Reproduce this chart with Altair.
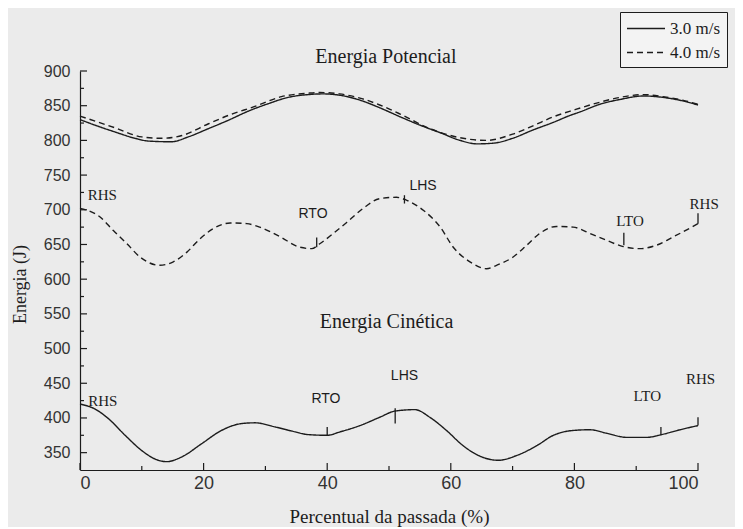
import altair as alt
import pandas as pd

# ---- data ----
speeds = ["3.0 m/s", "4.0 m/s"]

pe30_x = [0, 2.4, 5.7, 8.9, 11.1, 14.8, 17.5, 20.8, 24, 27.2, 30.5, 33.7, 36.9, 39.4, 42.1, 45.3, 48.5, 51.8, 55, 58.3, 61.5, 64.2, 66.9, 70, 73.3, 76.6, 79.3, 80.9, 84.1, 87.4, 91.2, 94.3, 97.5, 100]
pe30_y = [830, 822, 812, 803, 799, 798, 805, 817, 829, 842, 853, 862, 866, 867, 865, 858, 847, 834, 822, 811, 800, 795, 796, 803, 815, 826, 836, 841, 852, 859, 864, 862, 857, 851]

pe40_x = [0, 5.7, 10, 13.2, 16.5, 20.8, 24, 28.3, 32.6, 36.9, 38.8, 42, 45.3, 48.5, 51.8, 56.6, 62, 65.8, 70, 73.3, 76.6, 80, 84.1, 87.4, 91.2, 94.3, 97.5, 100]
pe40_y = [835, 818, 805, 803, 807, 824, 836, 849, 863, 868, 869, 867, 861, 851, 838, 817, 803, 800, 809, 821, 834, 844, 855, 862, 866, 863, 858, 852]

ke30_x = [0, 2.4, 4.6, 7.3, 10, 12.1, 14, 16.5, 19.7, 22.9, 26.2, 28.3, 31.6, 34.8, 36.9, 40, 42.1, 45.3, 48.5, 51, 54.2, 56.6, 59.3, 62, 64.7, 67.7, 70.7, 73.9, 76.6, 79.8, 82.5, 85.2, 88.5, 91.7, 94.1, 97.1, 100]
ke30_y = [420, 413, 399, 375, 353, 341, 337, 344, 363, 382, 392, 393, 387, 380, 376, 375, 380, 389, 401, 410, 412, 401, 382, 360, 345, 339, 346, 360, 375, 382, 383, 378, 372, 372, 376, 383, 389]

ke40_x = [0, 3.2, 5.4, 7.6, 9.7, 12.9, 15.1, 17.3, 19.4, 21.6, 24.3, 27, 29.1, 32.4, 35.6, 37.5, 38.8, 41, 43.2, 45.8, 48.5, 51.2, 52.8, 55.6, 58.3, 60.4, 63.1, 65.8, 67.4, 70.1, 72.3, 74.4, 77.1, 79.8, 82.5, 85.2, 87.9, 90.6, 93.3, 96, 99.2, 100]
ke40_y = [702, 690, 670, 651, 632, 620, 625, 639, 658, 673, 681, 680, 675, 661, 646, 644, 651, 666, 682, 702, 716, 718, 714, 699, 675, 646, 625, 615, 620, 632, 649, 666, 676, 675, 666, 656, 647, 644, 649, 661, 676, 680]

# gait event markers (x, y from, y to)
ev_x = [40, 51, 94, 100, 38.3, 52.5, 88, 100]
ev_y1 = [387, 414, 387, 401, 660, 721, 667, 695]
ev_y2 = [375, 392, 375, 389, 646, 709, 649, 680]

# event labels
serif_lbl = ["RHS", "LTO", "RHS", "RHS", "LTO", "RHS"]
serif_x = [3.7, 91.8, 100.4, 3.6, 89, 101]
serif_y = [425, 432, 456, 721, 684, 708]
sans_lbl = ["RTO", "LHS", "RTO", "LHS"]
sans_x = [39.8, 52.5, 37.7, 55.5]
sans_y = [427, 460, 694, 734]

panel_lbl = ["Energia Potencial", "Energia Cinética"]
panel_x = [49.5, 49.6]
panel_y = [920, 539]

y_major = list(range(350, 901, 50))
y_minor = list(range(375, 876, 50))
x_major = [0, 20, 40, 60, 80, 100]
x_minor = [10, 30, 50, 70, 90]

# ---- tables ----
rows = []
for xs_, ys_, sp, cv in [(pe30_x, pe30_y, speeds[0], "pe30"), (pe40_x, pe40_y, speeds[1], "pe40"),
                         (ke30_x, ke30_y, speeds[0], "ke30"), (ke40_x, ke40_y, speeds[1], "ke40")]:
    for a, b in zip(xs_, ys_):
        rows.append({"x": a, "energia": b, "velocidade": sp, "curva": cv})
df = pd.DataFrame(rows)

ev = pd.DataFrame({"x": ev_x, "energia": ev_y1, "y2": ev_y2})
serif_df = pd.DataFrame({"x": serif_x, "energia": serif_y, "t": serif_lbl})
sans_df = pd.DataFrame({"x": sans_x, "energia": sans_y, "t": sans_lbl})
panel_df = pd.DataFrame({"x": panel_x, "energia": panel_y, "t": panel_lbl})
ymaj_df = pd.DataFrame({"v": y_major})
ymin_df = pd.DataFrame({"v": y_minor})
xmaj_df = pd.DataFrame({"v": x_major})
xmin_df = pd.DataFrame({"v": x_minor})

W, H = 618, 399
INK = "#1c1c1c"
SERIF = "Liberation Serif"
NARROW = "Liberation Sans Narrow, Liberation Sans"
XT = "Percentual da passada (%)"
YT = "Energia (J)"

xs = alt.Scale(domain=[0, 100], nice=False, zero=False)
ys = alt.Scale(domain=[325, 900], nice=False, zero=False)

X_AX = alt.Axis(
    title=XT, values=x_major, ticks=False, grid=False, labelOverlap=False,
    labelFont=NARROW, labelFontSize=18, labelColor="#333", labelPadding=4,
    domainColor=INK, domainWidth=1.2,
    titleFont=SERIF, titleFontSize=19, titleFontWeight="normal", titleColor=INK,
    titleY=46, titleBaseline="middle")
Y_AX = alt.Axis(
    title=YT, values=y_major, ticks=False, grid=False, labelOverlap=False,
    labelFont=NARROW, labelFontSize=16, labelColor="#333", labelPadding=10,
    domainColor=INK, domainWidth=1.2,
    titleFont=SERIF, titleFontSize=18, titleFontWeight="normal", titleColor=INK,
    titleX=-60, titleY=213, titleAngle=270, titleBaseline="middle", titleAlign="center")

lines = alt.Chart(df).mark_line(interpolate="monotone", color=INK, strokeWidth=1.4).encode(
    x=alt.X("x:Q", scale=xs, axis=X_AX),
    y=alt.Y("energia:Q", scale=ys, axis=Y_AX),
    strokeDash=alt.StrokeDash("velocidade:N",
        scale=alt.Scale(domain=speeds, range=[[1, 0], [6, 4]]),
        legend=alt.Legend(title=None, orient="none", legendX=540, legendY=-59,
                          strokeColor=INK, fillColor="#f3f3f3", padding=6,
                          symbolType="M-1,0H3", symbolSize=361, symbolStrokeWidth=1.4,
                          symbolStrokeColor=INK, labelFont=SERIF, labelFontSize=17,
                          labelColor=INK, labelOffset=23, rowPadding=5)),
    detail="curva:N",
)

XN = alt.X("x:Q", scale=xs, axis=None)
YN = alt.Y("energia:Q", scale=ys, axis=None)

events = alt.Chart(ev).mark_rule(color=INK, strokeWidth=1.3).encode(x=XN, y=YN, y2="y2:Q")

ymaj = alt.Chart(ymaj_df).mark_rule(color=INK, strokeWidth=1.2).encode(
    y=alt.Y("v:Q", scale=ys, axis=None), x=alt.value(0), x2=alt.value(7))
ymin = alt.Chart(ymin_df).mark_rule(color=INK, strokeWidth=1.2).encode(
    y=alt.Y("v:Q", scale=ys, axis=None), x=alt.value(0), x2=alt.value(4))
xmaj = alt.Chart(xmaj_df).mark_rule(color=INK, strokeWidth=1.2).encode(
    x=alt.X("v:Q", scale=xs, axis=None), y=alt.value(H), y2=alt.value(H - 7))
xmin = alt.Chart(xmin_df).mark_rule(color=INK, strokeWidth=1.2).encode(
    x=alt.X("v:Q", scale=xs, axis=None), y=alt.value(H), y2=alt.value(H - 4))

serif_txt = alt.Chart(serif_df).mark_text(font=SERIF, fontSize=15, color=INK).encode(
    x=XN, y=YN, text="t:N")
sans_txt = alt.Chart(sans_df).mark_text(font="Liberation Sans", fontSize=14, color=INK).encode(
    x=XN, y=YN, text="t:N")
panel_txt = alt.Chart(panel_df).mark_text(font=SERIF, fontSize=20, color=INK).encode(
    x=XN, y=YN, text="t:N")

chart = alt.layer(lines, events, ymaj, ymin, xmaj, xmin, serif_txt, sans_txt, panel_txt).resolve_axis(
    x="independent", y="independent"
).properties(
    width=W, height=H,
    autosize=alt.AutoSizeParams(type="none"),
    padding={"left": 72, "top": 63, "right": 37, "bottom": 57},
    background="#ebebeb",
).configure_view(stroke=None).configure_axis(labelOverlap=False)

chart.save("out.html", embed_options={"renderer": "svg", "actions": False})
